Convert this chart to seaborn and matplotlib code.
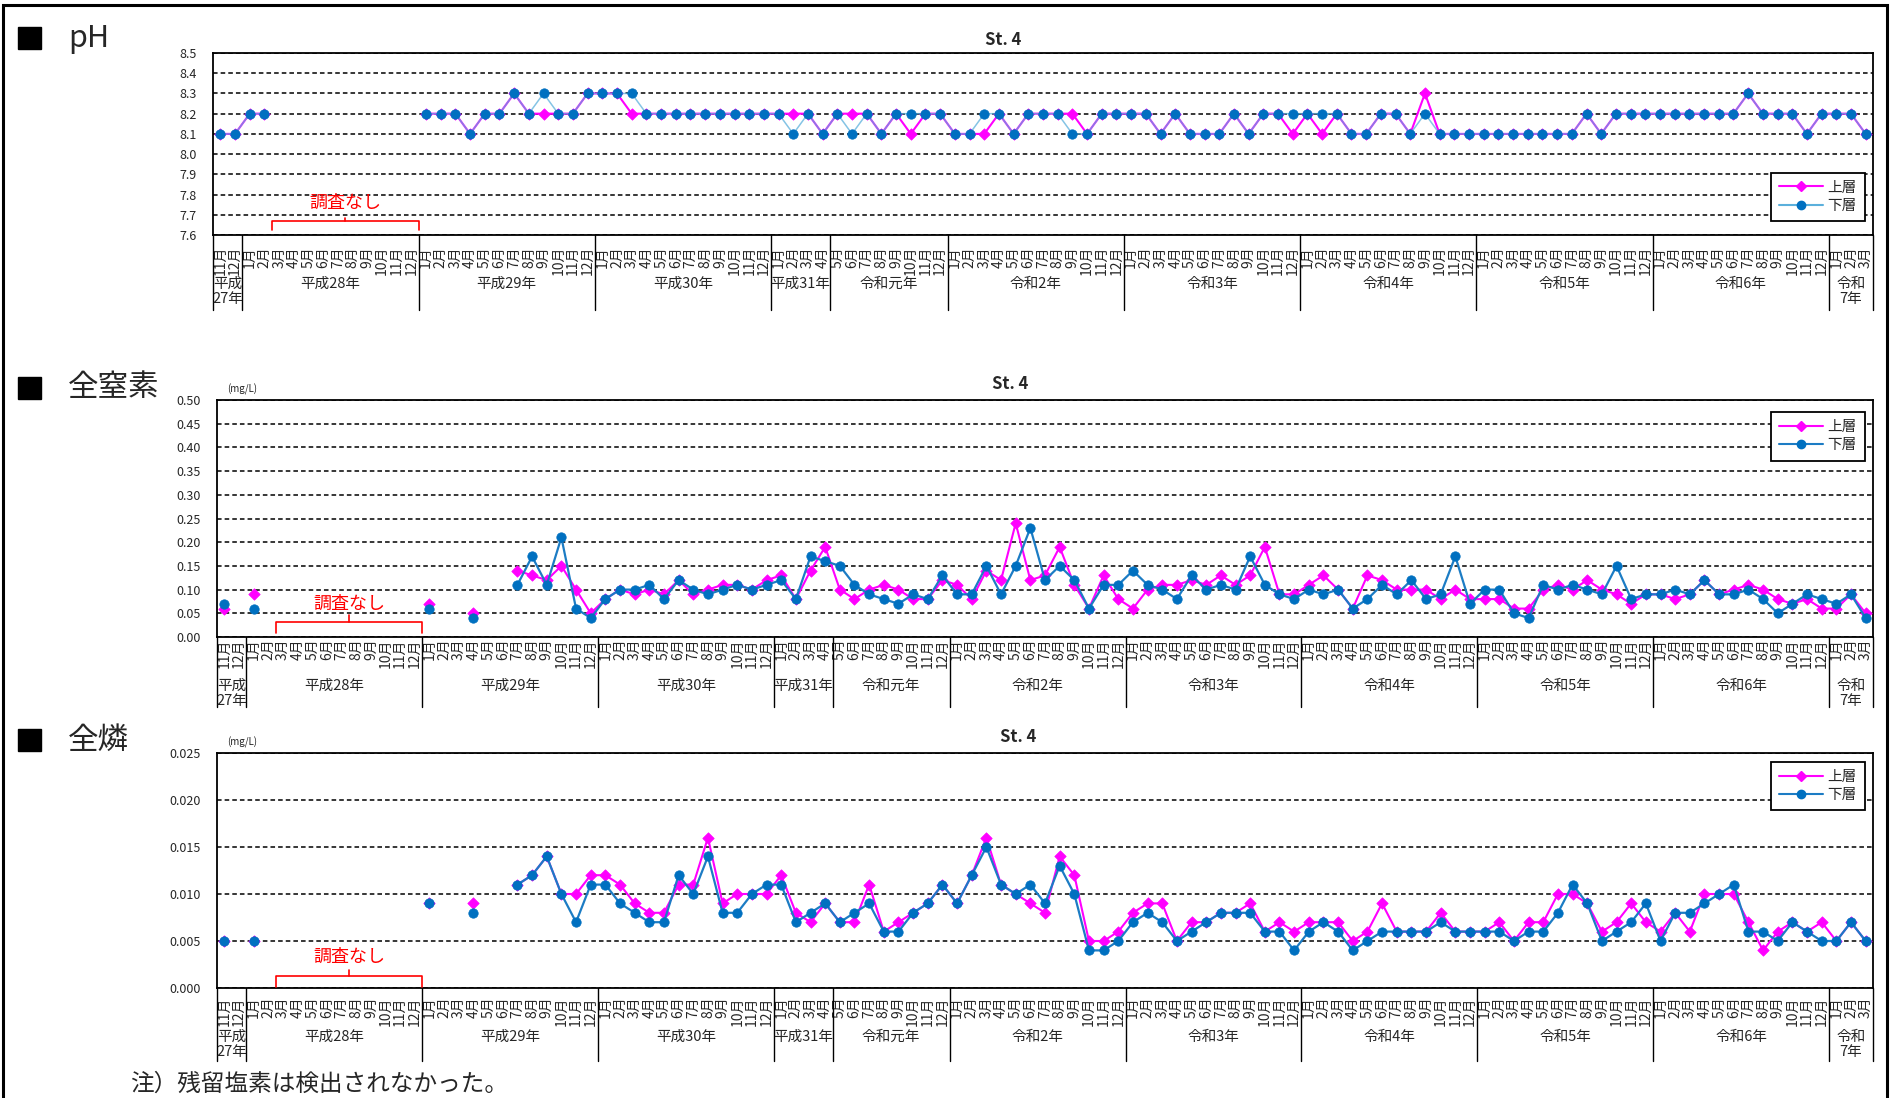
"""St.4 water quality (pH, total N, total P) monthly series, upper vs lower layer."""

import matplotlib
matplotlib.use("Agg")
import matplotlib.pyplot as plt
import matplotlib.transforms as mtransforms
from matplotlib.lines import Line2D
from matplotlib.patches import Rectangle
import numpy as np
import pandas as pd
import seaborn as sns

sns.set_style("white")
plt.rcParams["font.family"] = ["Noto Sans CJK JP", "DejaVu Sans"]

# ---- x axis categories -------------------------------------------------
year_labels = ["平成\n27年", "平成28年", "平成29年", "平成30年", "平成31年", "令和元年",
               "令和2年", "令和3年", "令和4年", "令和5年", "令和6年", "令和\n7年"]
year_first_month = [11, 1, 1, 1, 1, 5, 1, 1, 1, 1, 1, 1]
year_n_months = [2, 12, 12, 12, 4, 8, 12, 12, 12, 12, 12, 3]
no_survey_span = (3.5, 13.5)   # 平成28年 3月〜12月
N = None

# ---- pH ----------------------------------------------------------------
ph_upper = (
    [8.1, 8.1]
    + [8.2, 8.2, N, N, N, N, N, N, N, N, N, N]
    + [8.2, 8.2, 8.2, 8.1, 8.2, 8.2, 8.3, 8.2, 8.2, 8.2, 8.2, 8.3]
    + [8.3, 8.3, 8.2, 8.2, 8.2, 8.2, 8.2, 8.2, 8.2, 8.2, 8.2, 8.2]
    + [8.2, 8.2, 8.2, 8.1]
    + [8.2, 8.2, 8.2, 8.1, 8.2, 8.1, 8.2, 8.2]
    + [8.1, 8.1, 8.1, 8.2, 8.1, 8.2, 8.2, 8.2, 8.2, 8.1, 8.2, 8.2]
    + [8.2, 8.2, 8.1, 8.2, 8.1, 8.1, 8.1, 8.2, 8.1, 8.2, 8.2, 8.1]
    + [8.2, 8.1, 8.2, 8.1, 8.1, 8.2, 8.2, 8.1, 8.3, 8.1, 8.1, 8.1]
    + [8.1, 8.1, 8.1, 8.1, 8.1, 8.1, 8.1, 8.2, 8.1, 8.2, 8.2, 8.2]
    + [8.2, 8.2, 8.2, 8.2, 8.2, 8.2, 8.3, 8.2, 8.2, 8.2, 8.1, 8.2]
    + [8.2, 8.2, 8.1]
)
ph_lower = (
    [8.1, 8.1]
    + [8.2, 8.2, N, N, N, N, N, N, N, N, N, N]
    + [8.2, 8.2, 8.2, 8.1, 8.2, 8.2, 8.3, 8.2, 8.3, 8.2, 8.2, 8.3]
    + [8.3, 8.3, 8.3, 8.2, 8.2, 8.2, 8.2, 8.2, 8.2, 8.2, 8.2, 8.2]
    + [8.2, 8.1, 8.2, 8.1]
    + [8.2, 8.1, 8.2, 8.1, 8.2, 8.2, 8.2, 8.2]
    + [8.1, 8.1, 8.2, 8.2, 8.1, 8.2, 8.2, 8.2, 8.1, 8.1, 8.2, 8.2]
    + [8.2, 8.2, 8.1, 8.2, 8.1, 8.1, 8.1, 8.2, 8.1, 8.2, 8.2, 8.2]
    + [8.2, 8.2, 8.2, 8.1, 8.1, 8.2, 8.2, 8.1, 8.2, 8.1, 8.1, 8.1]
    + [8.1, 8.1, 8.1, 8.1, 8.1, 8.1, 8.1, 8.2, 8.1, 8.2, 8.2, 8.2]
    + [8.2, 8.2, 8.2, 8.2, 8.2, 8.2, 8.3, 8.2, 8.2, 8.2, 8.1, 8.2]
    + [8.2, 8.2, 8.1]
)

# ---- 全窒素 (mg/L) -----------------------------------------------------
tn_upper = (
    [0.06, N]
    + [0.09, N, N, N, N, N, N, N, N, N, N, N]
    + [0.07, N, N, 0.05, N, N, 0.14, 0.13, 0.12, 0.15, 0.10, 0.05]
    + [0.08, 0.10, 0.09, 0.10, 0.09, 0.12, 0.09, 0.10, 0.11, 0.11, 0.10, 0.12]
    + [0.13, 0.08, 0.14, 0.19]
    + [0.10, 0.08, 0.10, 0.11, 0.10, 0.08, 0.08, 0.12]
    + [0.11, 0.08, 0.14, 0.12, 0.24, 0.12, 0.13, 0.19, 0.11, 0.06, 0.13, 0.08]
    + [0.06, 0.10, 0.11, 0.11, 0.12, 0.11, 0.13, 0.11, 0.13, 0.19, 0.09, 0.09]
    + [0.11, 0.13, 0.10, 0.06, 0.13, 0.12, 0.10, 0.10, 0.10, 0.08, 0.10, 0.08]
    + [0.08, 0.08, 0.06, 0.06, 0.10, 0.11, 0.10, 0.12, 0.10, 0.09, 0.07, 0.09]
    + [0.09, 0.08, 0.09, 0.12, 0.09, 0.10, 0.11, 0.10, 0.08, 0.07, 0.08, 0.06]
    + [0.06, 0.09, 0.05]
)
tn_lower = (
    [0.07, N]
    + [0.06, N, N, N, N, N, N, N, N, N, N, N]
    + [0.06, N, N, 0.04, N, N, 0.11, 0.17, 0.11, 0.21, 0.06, 0.04]
    + [0.08, 0.10, 0.10, 0.11, 0.08, 0.12, 0.10, 0.09, 0.10, 0.11, 0.10, 0.11]
    + [0.12, 0.08, 0.17, 0.16]
    + [0.15, 0.11, 0.09, 0.08, 0.07, 0.09, 0.08, 0.13]
    + [0.09, 0.09, 0.15, 0.09, 0.15, 0.23, 0.12, 0.15, 0.12, 0.06, 0.11, 0.11]
    + [0.14, 0.11, 0.10, 0.08, 0.13, 0.10, 0.11, 0.10, 0.17, 0.11, 0.09, 0.08]
    + [0.10, 0.09, 0.10, 0.06, 0.08, 0.11, 0.09, 0.12, 0.08, 0.09, 0.17, 0.07]
    + [0.10, 0.10, 0.05, 0.04, 0.11, 0.10, 0.11, 0.10, 0.09, 0.15, 0.08, 0.09]
    + [0.09, 0.10, 0.09, 0.12, 0.09, 0.09, 0.10, 0.08, 0.05, 0.07, 0.09, 0.08]
    + [0.07, 0.09, 0.04]
)

# ---- 全燐 (mg/L) -------------------------------------------------------
tp_upper = (
    [0.005, N]
    + [0.005, N, N, N, N, N, N, N, N, N, N, N]
    + [0.009, N, N, 0.009, N, N, 0.011, 0.012, 0.014, 0.010, 0.010, 0.012]
    + [0.012, 0.011, 0.009, 0.008, 0.008, 0.011, 0.011, 0.016, 0.009, 0.010, 0.010, 0.010]
    + [0.012, 0.008, 0.007, 0.009]
    + [0.007, 0.007, 0.011, 0.006, 0.007, 0.008, 0.009, 0.011]
    + [0.009, 0.012, 0.016, 0.011, 0.010, 0.009, 0.008, 0.014, 0.012, 0.005, 0.005, 0.006]
    + [0.008, 0.009, 0.009, 0.005, 0.007, 0.007, 0.008, 0.008, 0.009, 0.006, 0.007, 0.006]
    + [0.007, 0.007, 0.007, 0.005, 0.006, 0.009, 0.006, 0.006, 0.006, 0.008, 0.006, 0.006]
    + [0.006, 0.007, 0.005, 0.007, 0.007, 0.010, 0.010, 0.009, 0.006, 0.007, 0.009, 0.007]
    + [0.006, 0.008, 0.006, 0.010, 0.010, 0.010, 0.007, 0.004, 0.006, 0.007, 0.006, 0.007]
    + [0.005, 0.007, 0.005]
)
tp_lower = (
    [0.005, N]
    + [0.005, N, N, N, N, N, N, N, N, N, N, N]
    + [0.009, N, N, 0.008, N, N, 0.011, 0.012, 0.014, 0.010, 0.007, 0.011]
    + [0.011, 0.009, 0.008, 0.007, 0.007, 0.012, 0.010, 0.014, 0.008, 0.008, 0.010, 0.011]
    + [0.011, 0.007, 0.008, 0.009]
    + [0.007, 0.008, 0.009, 0.006, 0.006, 0.008, 0.009, 0.011]
    + [0.009, 0.012, 0.015, 0.011, 0.010, 0.011, 0.009, 0.013, 0.010, 0.004, 0.004, 0.005]
    + [0.007, 0.008, 0.007, 0.005, 0.006, 0.007, 0.008, 0.008, 0.008, 0.006, 0.006, 0.004]
    + [0.006, 0.007, 0.006, 0.004, 0.005, 0.006, 0.006, 0.006, 0.006, 0.007, 0.006, 0.006]
    + [0.006, 0.006, 0.005, 0.006, 0.006, 0.008, 0.011, 0.009, 0.005, 0.006, 0.007, 0.009]
    + [0.005, 0.008, 0.008, 0.009, 0.010, 0.011, 0.006, 0.006, 0.005, 0.007, 0.006, 0.005]
    + [0.005, 0.007, 0.005]
)

PINK = "#FF00FF"
BLUE = "#0070C0"

W, H = 1894, 1098
fig = plt.figure(figsize=(W / 100, H / 100), dpi=100)

# month tick labels built from the year spans
month_labels = []
for first, n in zip(year_first_month, year_n_months):
    month_labels += [f"{first + k}月" for k in range(n)]
n_months = len(month_labels)
year_bounds = np.concatenate([[-0.5], np.cumsum(year_n_months) - 0.5])

panels = [
    dict(name="pH", upper=ph_upper, lower=ph_lower, box=(213, 53, 1873, 235),
         ylim=(7.6, 8.5), step=0.1, fmt="{:.1f}", unit=False,
         head_y=38, title_x=0.476, title_pad=13,
         legend=("lower right", (0.995, 0.077)), lower_line="#5BB0DC", lower_alpha=0.75, lower_lw=1.1,
         month_len=42, year_len=75, label_pad=8,
         bracket=(0.077, 0.027, 0.095, 0.175)),
    dict(name="全窒素", upper=tn_upper, lower=tn_lower, box=(217, 400, 1873, 637),
         ylim=(0, 0.5), step=0.05, fmt="{:.2f}", unit=True,
         head_y=388, title_x=0.479, title_pad=16,
         legend=("upper right", (0.995, 0.949)), lower_line="#1C7CC4", lower_alpha=1.0, lower_lw=1.6,
         month_len=33, year_len=70, label_pad=1,
         bracket=(0.063, 0.017, 0.093, 0.139)),
    dict(name="全燐", upper=tp_upper, lower=tp_lower, box=(217, 753, 1873, 988),
         ylim=(0, 0.025), step=0.005, fmt="{:.3f}", unit=True,
         head_y=740, title_x=0.484, title_pad=16,
         legend=("upper right", (0.995, 0.962)), lower_line="#1C7CC4", lower_alpha=1.0, lower_lw=1.6,
         month_len=34, year_len=73, label_pad=6,
         bracket=(0.051, 0.004, 0.077, 0.132)),
]


def series_frame(values):
    df = pd.DataFrame({"x": np.arange(len(values)), "y": pd.Series(values, dtype=float)})
    df["seg"] = df["y"].isna().cumsum()
    return df.dropna()


for p in panels:
    l, t, r, b = p["box"]
    ax_h = b - t
    ax = fig.add_axes([l / W, 1 - b / H, (r - l) / W, ax_h / H])

    up = series_frame(p["upper"])
    lo = series_frame(p["lower"])
    sns.lineplot(data=up, x="x", y="y", units="seg", estimator=None, sort=False,
                 color=PINK, lw=1.5, ax=ax, legend=False, zorder=2)
    sns.scatterplot(data=up, x="x", y="y", marker="D", s=34, color=PINK,
                    edgecolor=PINK, linewidth=0.5, ax=ax, legend=False, zorder=3)
    sns.lineplot(data=lo, x="x", y="y", units="seg", estimator=None, sort=False,
                 color=p["lower_line"], lw=p["lower_lw"], alpha=p["lower_alpha"],
                 ax=ax, legend=False, zorder=4)
    sns.scatterplot(data=lo, x="x", y="y", marker="o", s=46, color=BLUE,
                    edgecolor=BLUE, linewidth=0.5, ax=ax, legend=False, zorder=5)

    # y axis
    y0, y1 = p["ylim"]
    yt = np.linspace(y0, y1, int(round((y1 - y0) / p["step"])) + 1)
    ax.set_ylim(y0, y1)
    ax.set_yticks(yt)
    ax.set_yticklabels([p["fmt"].format(v) for v in yt], fontsize=9)
    ax.tick_params(axis="y", length=0, pad=12)
    ax.yaxis.grid(True, color="black", lw=1.1, ls=(0, (3, 2)))
    ax.set_ylabel("")

    # x axis: month labels + separators
    ax.set_xlim(-0.5, n_months - 0.5)
    ax.set_xticks(np.arange(n_months))
    ax.set_xticklabels(month_labels, rotation=90, fontsize=10)
    ax.set_xticks(np.arange(n_months + 1) - 0.5, minor=True)
    ax.tick_params(axis="x", which="major", length=0, pad=p["label_pad"])
    ax.tick_params(axis="x", which="minor", length=p["month_len"] / 1.389,
                   width=1.0, color="black", direction="out")
    ax.set_xlabel("")
    for s in ax.spines.values():
        s.set_color("black")
        s.set_linewidth(1.3)

    trans = mtransforms.blended_transform_factory(ax.transData, ax.transAxes)
    yl = -p["year_len"] / ax_h
    for xb in year_bounds:
        ax.plot([xb, xb], [0, yl], transform=trans, color="black", lw=1.0, clip_on=False)
    for i, lab in enumerate(year_labels):
        xc = (year_bounds[i] + year_bounds[i + 1]) / 2
        ax.text(xc, -42 / ax_h, lab, transform=trans, ha="center", va="top",
                fontsize=10.5, linespacing=1.05)

    # "調査なし" bracket
    top, end, notch, ty = p["bracket"]
    xa, xb = no_survey_span
    xm = (xa + xb) / 2
    ax.plot([xa, xa, xb, xb], [end, top, top, end], transform=trans,
            color="red", lw=1.2, clip_on=False, zorder=6)
    ax.plot([xm, xm], [top, notch], transform=trans, color="red", lw=1.2, zorder=6)
    ax.text(xm, ty, "調査なし", transform=trans, ha="center", va="center",
            color="red", fontsize=13)

    ax.text(p["title_x"], 1 + p["title_pad"] / ax_h, "St. 4", transform=ax.transAxes,
            ha="center", va="center", fontsize=12, fontweight="bold")
    if p["unit"]:
        ax.text(25 / (r - l), 1 + 11 / ax_h, "(mg/L)", transform=ax.transAxes,
                ha="center", va="center", fontsize=7)

    handles = [
        Line2D([], [], color=PINK, lw=1.5, marker="D", markersize=5.5, label="上層"),
        Line2D([], [], color=p["lower_line"], lw=1.5, marker="o", markersize=6,
               markerfacecolor=BLUE, markeredgecolor=BLUE, label="下層"),
    ]
    loc, anchor = p["legend"]
    leg = ax.legend(handles=handles, loc=loc, bbox_to_anchor=anchor, fontsize=10.5,
                    frameon=True, fancybox=False, edgecolor="black", framealpha=1,
                    handlelength=3.0, borderpad=0.55, labelspacing=0.3,
                    handletextpad=0.3, borderaxespad=0)
    leg.get_frame().set_linewidth(1.3)

    # panel heading: black square + name
    hy = p["head_y"]
    fig.add_artist(Rectangle((18 / W, 1 - (hy + 11) / H), 23 / W, 22 / H,
                             transform=fig.transFigure, color="black"))
    fig.text(68 / W, 1 - hy / H, p["name"], ha="left", va="center", fontsize=22)

fig.text(130 / W, 1 - 1073 / H, "注）残留塩素は検出されなかった。", ha="left", va="top", fontsize=17)
fig.add_artist(Rectangle((3 / W, -0.02), 1884 / W, 1 - 5 / H + 0.02,
                         transform=fig.transFigure, fill=False, lw=2.2, color="black"))

fig.savefig("out.png", dpi=100)
plt.close(fig)
